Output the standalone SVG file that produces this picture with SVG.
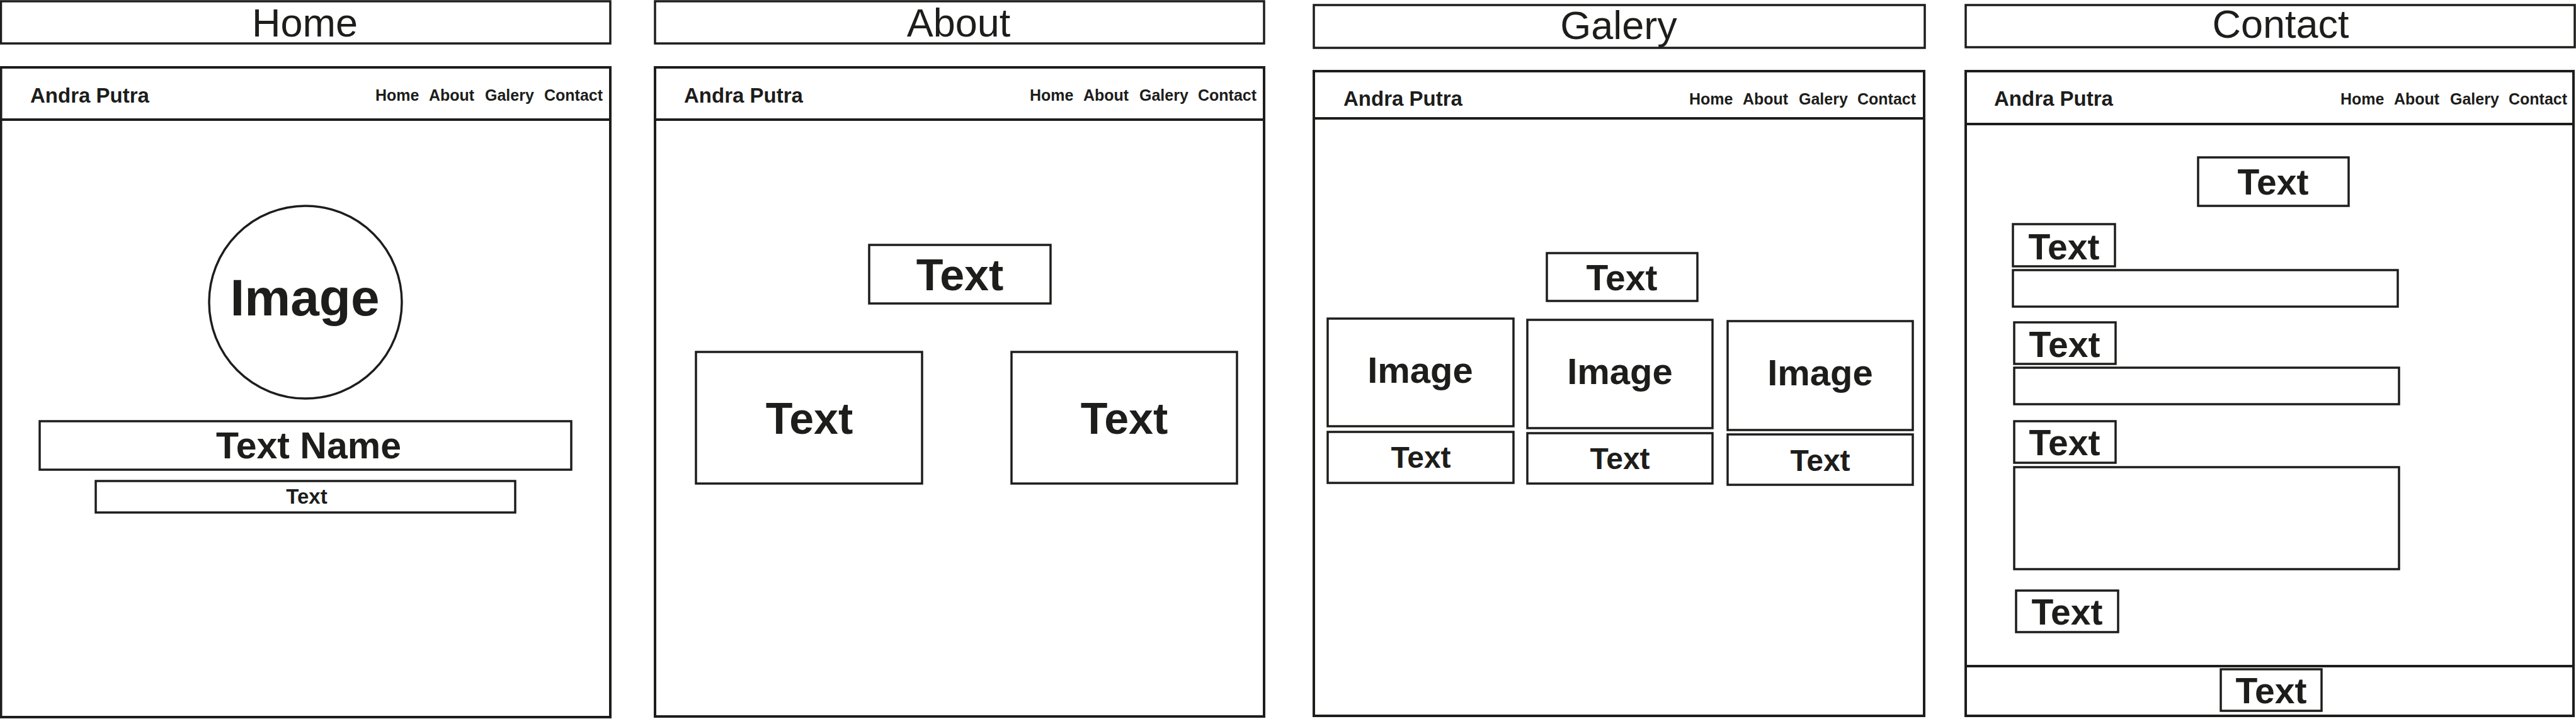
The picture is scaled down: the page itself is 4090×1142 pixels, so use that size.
<svg xmlns="http://www.w3.org/2000/svg" width="4090" height="1142" viewBox="0 0 4090 1142">
<style>
.b{fill:#fff;stroke:#1d1d1b;stroke-width:3.5}
.f{fill:#fff;stroke:#1d1d1b;stroke-width:4}
.l{stroke:#1d1d1b;stroke-width:4}
.t{font-family:"Liberation Sans",Arial,sans-serif;fill:#1d1d1b;text-anchor:middle}
.title{font-size:63px;font-weight:400}
.bold{font-weight:700}
.brand{font-family:"Liberation Sans",Arial,sans-serif;fill:#1d1d1b;font-weight:700;font-size:33px}
.nav{font-family:"Liberation Sans",Arial,sans-serif;fill:#1d1d1b;font-weight:700;font-size:25px}
</style>
<rect width="4090" height="1142" fill="#fff"/>
<g id="connectors"/>

<!-- HOME -->
<g id="title-home">
<rect class="b" x="1.5" y="2" width="967.5" height="67"/>
<text class="t title" x="484" y="58">Home</text>
</g>
<g id="page-home">
<rect class="f" x="1.5" y="107" width="967.5" height="1032"/>
<line class="l" x1="1.5" y1="190" x2="969" y2="190"/>
<text class="brand" x="48" y="163">Andra Putra</text>
<text class="nav" y="160"><tspan x="596">Home</tspan><tspan x="681">About</tspan><tspan x="770">Galery</tspan><tspan x="864">Contact</tspan></text>
</g>
<g id="home-image">
<circle class="b" cx="485" cy="480" r="153"/>
<text class="t bold" x="484" y="501" font-size="82">Image</text>
</g>
<g id="home-textname">
<rect class="b" x="63" y="669" width="844" height="77"/>
<text class="t bold" x="490" y="728" font-size="59">Text Name</text>
</g>
<g id="home-text">
<rect class="b" x="152" y="764" width="666" height="50"/>
<text class="t bold" x="487" y="800" font-size="33">Text</text>
</g>

<!-- ABOUT -->
<g id="title-about">
<rect class="b" x="1040" y="2" width="967" height="67"/>
<text class="t title" x="1522" y="58">About</text>
</g>
<g id="page-about">
<rect class="f" x="1040" y="107" width="967" height="1031"/>
<line class="l" x1="1040" y1="190" x2="2007" y2="190"/>
<text class="brand" x="1086" y="163">Andra Putra</text>
<text class="nav" y="160"><tspan x="1635">Home</tspan><tspan x="1720">About</tspan><tspan x="1809">Galery</tspan><tspan x="1902">Contact</tspan></text>
</g>
<g id="about-title-text">
<rect class="b" x="1380" y="389" width="288" height="93"/>
<text class="t bold" x="1524" y="461" font-size="70">Text</text>
</g>
<g id="about-left">
<rect class="b" x="1105" y="559" width="359" height="209"/>
<text class="t bold" x="1285" y="689" font-size="70">Text</text>
</g>
<g id="about-right">
<rect class="b" x="1606" y="559" width="358" height="209"/>
<text class="t bold" x="1785" y="689" font-size="70">Text</text>
</g>

<!-- GALERY -->
<g id="title-galery">
<rect class="b" x="2086" y="8" width="970" height="68"/>
<text class="t title" x="2570" y="62">Galery</text>
</g>
<g id="page-galery">
<rect class="f" x="2086" y="113" width="969" height="1024"/>
<line class="l" x1="2086" y1="188" x2="3055" y2="188"/>
<text class="brand" x="2133" y="168">Andra Putra</text>
<text class="nav" y="166"><tspan x="2682">Home</tspan><tspan x="2767">About</tspan><tspan x="2856">Galery</tspan><tspan x="2949">Contact</tspan></text>
</g>
<g id="galery-title-text">
<rect class="b" x="2456" y="402" width="239" height="76"/>
<text class="t bold" x="2575" y="461" font-size="57">Text</text>
</g>
<g id="galery-image-1">
<rect class="b" x="2108" y="506" width="295" height="171"/>
<text class="t bold" x="2255" y="608" font-size="58">Image</text>
</g>
<g id="galery-text-1">
<rect class="b" x="2108" y="686" width="295" height="81"/>
<text class="t bold" x="2256" y="743" font-size="48">Text</text>
</g>
<g id="galery-image-2">
<rect class="b" x="2425" y="508" width="294" height="172"/>
<text class="t bold" x="2572" y="610" font-size="58">Image</text>
</g>
<g id="galery-text-2">
<rect class="b" x="2425" y="688" width="294" height="80"/>
<text class="t bold" x="2572" y="745" font-size="48">Text</text>
</g>
<g id="galery-image-3">
<rect class="b" x="2743" y="510" width="294" height="173"/>
<text class="t bold" x="2890" y="612" font-size="58">Image</text>
</g>
<g id="galery-text-3">
<rect class="b" x="2743" y="690" width="294" height="80"/>
<text class="t bold" x="2890" y="748" font-size="48">Text</text>
</g>

<!-- CONTACT -->
<g id="title-contact">
<rect class="b" x="3121" y="8" width="967" height="67"/>
<text class="t title" x="3621" y="60">Contact</text>
</g>
<g id="page-contact">
<rect class="f" x="3121" y="113" width="965" height="1024"/>
<line class="l" x1="3121" y1="197" x2="4086" y2="197"/>
<line class="l" x1="3121" y1="1058" x2="4086" y2="1058"/>
<text class="brand" x="3166" y="168">Andra Putra</text>
<text class="nav" y="166"><tspan x="3716">Home</tspan><tspan x="3801">About</tspan><tspan x="3890">Galery</tspan><tspan x="3983">Contact</tspan></text>
</g>
<g id="contact-title-text">
<rect class="b" x="3490" y="250" width="239" height="77"/>
<text class="t bold" x="3609" y="309" font-size="57">Text</text>
</g>
<g id="contact-label-1">
<rect class="b" x="3196" y="356" width="162" height="67"/>
<text class="t bold" x="3277" y="412" font-size="57">Text</text>
</g>
<g id="contact-input-1">
<rect class="b" x="3196" y="429" width="611" height="58"/>
</g>
<g id="contact-label-2">
<rect class="b" x="3198" y="512" width="161" height="66"/>
<text class="t bold" x="3278" y="567" font-size="57">Text</text>
</g>
<g id="contact-input-2">
<rect class="b" x="3198" y="584" width="611" height="58"/>
</g>
<g id="contact-label-3">
<rect class="b" x="3198" y="669" width="161" height="66"/>
<text class="t bold" x="3278" y="723" font-size="57">Text</text>
</g>
<g id="contact-textarea">
<rect class="b" x="3198" y="742" width="611" height="162"/>
</g>
<g id="contact-submit">
<rect class="b" x="3201" y="938" width="162" height="66"/>
<text class="t bold" x="3282" y="992" font-size="57">Text</text>
</g>
<g id="contact-footer-text">
<rect class="b" x="3526" y="1063" width="160" height="66"/>
<text class="t bold" x="3606" y="1117" font-size="57">Text</text>
</g>
</svg>
